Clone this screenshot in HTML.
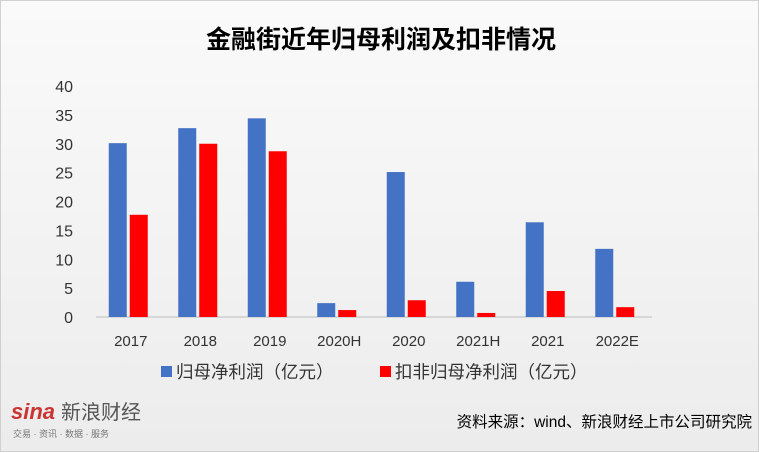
<!DOCTYPE html>
<html><head><meta charset="utf-8"><style>
body{margin:0;width:759px;height:452px;overflow:hidden;background:#fff;font-family:"Liberation Sans","Noto Sans CJK SC",sans-serif;}
#wrap{position:absolute;left:0;top:0;width:757px;height:450px;border:1px solid #d0d0d0;background:linear-gradient(#fafafa,#ececec);}
</style></head><body>
<div id="wrap">
<svg width="759" height="452" id="chart" style="position:absolute;left:0;top:0"></svg>
</div>
<script>
const categories=["2017","2018","2019","2020H","2020","2021H","2021","2022E"];
const netProfit=[30.1,32.7,34.4,2.4,25.1,6.1,16.4,11.8];
const deductedProfit=[17.7,30.0,28.7,1.2,2.9,0.7,4.5,1.7];
const yTicks=[0,5,10,15,20,25,30,35,40];
const NS="http://www.w3.org/2000/svg";
const svg=document.getElementById('chart');
function mk(t,a,txt){const e=document.createElementNS(NS,t);for(const k in a)e.setAttribute(k,a[k]);if(txt!==undefined)e.textContent=txt;svg.appendChild(e);return e;}
const x0=95,x1=651,yBase=316,yTop=85,yMax=40;
const y=v=>yBase-(v/yMax)*(yBase-yTop);
const band=(x1-x0)/categories.length;
const cx=i=>x0+band*(i+0.5);
let t=mk('text',{x:380,y:47,'text-anchor':'middle','font-size':25,'font-weight':'bold',fill:'#000'},'金融街近年归母利润及扣非情况');

yTicks.forEach(v=>{const e=mk('text',{x:72,y:y(v)+6,'text-anchor':'end','font-size':16,fill:'#333'},String(v));
});
const ax=mk('line',{x1:x0,x2:x1,y1:yBase,y2:yBase,stroke:'#bbb','stroke-width':1});

const bw=18;
categories.forEach((c,i)=>{
 const b1=mk('rect',{x:cx(i)-22,y:y(netProfit[i]),width:bw,height:yBase-y(netProfit[i]),fill:'#4472c4'});
 
 const b2=mk('rect',{x:cx(i)-1,y:y(deductedProfit[i]),width:bw,height:yBase-y(deductedProfit[i]),fill:'#ff0000'});
 
 const l=mk('text',{x:cx(i),y:345,'text-anchor':'middle','font-size':15,fill:'#333'},c);
 
});
let r=mk('rect',{x:160,y:365,width:11,height:11,fill:'#4472c4'});
t=mk('text',{x:175,y:377,'font-size':17.5,fill:'#333'},'归母净利润（亿元）');
r=mk('rect',{x:379,y:365,width:11,height:11,fill:'#ff0000'});
t=mk('text',{x:394,y:377,'font-size':17.5,fill:'#333'},'扣非归母净利润（亿元）');
t=mk('text',{x:10,y:418,'font-size':22,'font-weight':'bold','font-style':'italic',fill:'#c33'},'sina');
t=mk('text',{x:60,y:418,'font-size':20,fill:'#555'},'新浪财经');
t=mk('text',{x:12,y:436,'font-size':9,fill:'#777'},'交易 · 资讯 · 数据 · 服务');
t=mk('text',{x:751,y:426,'text-anchor':'end','font-size':15.5,fill:'#000'},'资料来源：wind、新浪财经上市公司研究院');
</script>
</body></html>
